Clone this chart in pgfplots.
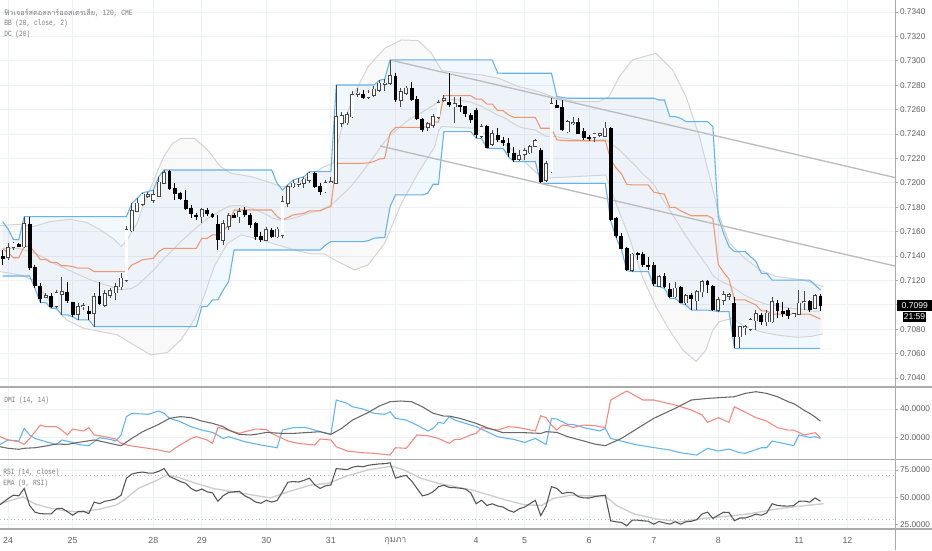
\documentclass[border=0pt]{standalone}
\usepackage{fontspec}
\setmainfont{Liberation Sans}
\newfontfamily\thaifont[Script=Thai]{Loma}
\newfontfamily\lblfont[FakeStretch=0.78]{Liberation Mono}
\usepackage{pgfplots}
\pgfplotsset{compat=1.18}
\usepackage{pgfplotstable}

\definecolor{gridc}{RGB}{238,241,248}
\definecolor{dcline}{RGB}{100,178,240}
\definecolor{dcfill}{RGB}{33,150,243}
\definecolor{dcmid}{RGB}{242,150,112}
\definecolor{bbline}{RGB}{212,212,212}
\definecolor{trend}{RGB}{188,188,188}
\definecolor{wk}{RGB}{70,70,70}
\definecolor{dmiplus}{RGB}{95,180,245}
\definecolor{dmiminus}{RGB}{245,135,125}
\definecolor{adx}{RGB}{105,105,105}
\definecolor{rsic}{RGB}{85,85,85}
\definecolor{emac}{RGB}{205,205,205}
\definecolor{sep}{RGB}{170,170,170}
\definecolor{txt}{RGB}{95,95,95}
\definecolor{ltxt}{RGB}{125,125,125}

\newcommand\lbl{\lblfont\fontsize{6}{7}\selectfont}

\pgfplotstableread{
x o h l c up lo mid bm
0 0.71395 0.71449 0.71326 0.71381 0.71682 0.71236 0.71459 0.71460
1 0.71389 0.71504 0.71367 0.71469 0.71620 0.71236 0.71428 0.71460
2 0.71471 0.71518 0.71449 0.71504 0.71535 0.71236 0.71386 0.71460
3 0.71496 0.71504 0.71471 0.71477 0.71535 0.71236 0.71386 0.71460
4 0.71477 0.71723 0.71463 0.71662 0.71723 0.71236 0.71480 0.71450
5 0.71662 0.71723 0.71285 0.71307 0.71723 0.71236 0.71480 0.71440
6 0.71307 0.71326 0.71135 0.71154 0.71723 0.71135 0.71429 0.71420
7 0.71154 0.71176 0.71018 0.71053 0.71723 0.71018 0.71371 0.71400
8 0.71062 0.71094 0.71053 0.71075 0.71723 0.71018 0.71371 0.71380
9 0.71067 0.71094 0.70971 0.70985 0.71723 0.70971 0.71347 0.71350
10 0.70990 0.71122 0.70971 0.71100 0.71723 0.70971 0.71347 0.71330
11 0.71089 0.71231 0.70917 0.71108 0.71723 0.70917 0.71320 0.71310
12 0.71100 0.71190 0.71018 0.71034 0.71723 0.70917 0.71320 0.71290
13 0.71018 0.71026 0.70903 0.70917 0.71723 0.70903 0.71313 0.71270
14 0.70922 0.71012 0.70876 0.70985 0.71723 0.70876 0.71300 0.71250
15 0.70985 0.71018 0.70958 0.70993 0.71723 0.70876 0.71300 0.71230
16 0.70949 0.70990 0.70876 0.70930 0.71723 0.70876 0.71300 0.71210
17 0.70930 0.71094 0.70821 0.71067 0.71723 0.70821 0.71272 0.71195
18 0.71067 0.71190 0.70999 0.71012 0.71723 0.70821 0.71272 0.71180
19 0.70999 0.71122 0.70985 0.71089 0.71723 0.70821 0.71272 0.71165
20 0.71081 0.71135 0.71053 0.71116 0.71723 0.70821 0.71272 0.71152
21 0.71100 0.71176 0.71040 0.71149 0.71723 0.70821 0.71272 0.71136
22 0.71149 0.71258 0.71122 0.71217 0.71723 0.70821 0.71272 0.71122
23 0.71204 0.71646 0.71190 0.71613 0.71723 0.70821 0.71272 0.71128
24 0.71608 0.71832 0.71600 0.71772 0.71832 0.70821 0.71327 0.71134
25 0.71769 0.71873 0.71764 0.71832 0.71873 0.70821 0.71347 0.71160
26 0.71826 0.71919 0.71810 0.71906 0.71919 0.70821 0.71370 0.71198
27 0.71892 0.71928 0.71873 0.71900 0.71928 0.70821 0.71375 0.71240
28 0.71859 0.71941 0.71832 0.71900 0.71941 0.70821 0.71381 0.71281
29 0.71892 0.72050 0.71887 0.72004 0.72050 0.70821 0.71436 0.71332
30 0.71996 0.72105 0.71996 0.72083 0.72105 0.70821 0.71463 0.71381
31 0.72091 0.72105 0.71941 0.71949 0.72105 0.70821 0.71463 0.71423
32 0.71955 0.71996 0.71859 0.71908 0.72105 0.70821 0.71463 0.71467
33 0.71914 0.71928 0.71859 0.71873 0.72105 0.70821 0.71463 0.71515
34 0.71859 0.71941 0.71777 0.71791 0.72105 0.70821 0.71463 0.71555
35 0.71791 0.71818 0.71709 0.71744 0.72105 0.70821 0.71463 0.71593
36 0.71736 0.71750 0.71695 0.71723 0.72105 0.70821 0.71463 0.71632
37 0.71723 0.71791 0.71668 0.71777 0.72105 0.70985 0.71545 0.71668
38 0.71772 0.71791 0.71728 0.71744 0.72105 0.70985 0.71545 0.71705
39 0.71742 0.71750 0.71709 0.71723 0.72105 0.71040 0.71573 0.71736
40 0.71662 0.71736 0.71449 0.71531 0.72105 0.71040 0.71573 0.71757
41 0.71531 0.71695 0.71490 0.71662 0.72105 0.71122 0.71614 0.71783
42 0.71646 0.71750 0.71613 0.71731 0.72105 0.71190 0.71648 0.71808
43 0.71731 0.71750 0.71709 0.71717 0.72105 0.71449 0.71777 0.71814
44 0.71723 0.71791 0.71668 0.71764 0.72105 0.71449 0.71777 0.71813
45 0.71778 0.71805 0.71723 0.71737 0.72105 0.71449 0.71777 0.71808
46 0.71737 0.71750 0.71627 0.71655 0.72105 0.71449 0.71777 0.71796
47 0.71668 0.71682 0.71532 0.71559 0.72105 0.71449 0.71777 0.71779
48 0.71559 0.71600 0.71518 0.71532 0.72105 0.71449 0.71777 0.71760
49 0.71532 0.71641 0.71526 0.71614 0.72105 0.71449 0.71777 0.71741
50 0.71608 0.71627 0.71546 0.71559 0.72105 0.71449 0.71777 0.71715
51 0.71559 0.71635 0.71550 0.71619 0.71996 0.71449 0.71723 0.71698
52 0.71573 0.71890 0.71550 0.71846 0.71941 0.71449 0.71695 0.71695
53 0.71832 0.71983 0.71805 0.71969 0.71983 0.71449 0.71716 0.71700
54 0.71969 0.72024 0.71955 0.71996 0.72024 0.71449 0.71737 0.71710
55 0.71988 0.72037 0.71969 0.71996 0.72037 0.71449 0.71743 0.71723
56 0.71996 0.72050 0.71960 0.72029 0.72050 0.71449 0.71750 0.71738
57 0.72024 0.72091 0.71996 0.72078 0.72091 0.71449 0.71770 0.71753
58 0.72078 0.72091 0.71960 0.71969 0.72091 0.71449 0.71770 0.71764
59 0.71974 0.72000 0.71901 0.71928 0.72091 0.71449 0.71770 0.71775
60 0.71928 0.72024 0.71914 0.72002 0.72091 0.71490 0.71791 0.71798
61 0.72002 0.72050 0.71996 0.72010 0.72091 0.71518 0.71805 0.71816
62 0.71996 0.72802 0.71988 0.72543 0.72802 0.71518 0.72160 0.71856
63 0.72488 0.72577 0.72460 0.72548 0.72802 0.71518 0.72160 0.71898
64 0.72493 0.72580 0.72470 0.72556 0.72802 0.71518 0.72160 0.71937
65 0.72543 0.72750 0.72530 0.72720 0.72802 0.71518 0.72160 0.71986
66 0.72726 0.72775 0.72707 0.72734 0.72802 0.71518 0.72160 0.72040
67 0.72728 0.72760 0.72690 0.72701 0.72802 0.71518 0.72160 0.72097
68 0.72701 0.72761 0.72685 0.72734 0.72802 0.71526 0.72164 0.72158
69 0.72720 0.72790 0.72707 0.72767 0.72802 0.71546 0.72174 0.72215
70 0.72761 0.72840 0.72748 0.72816 0.72840 0.71550 0.72195 0.72278
71 0.72810 0.72850 0.72750 0.72816 0.72850 0.71550 0.72200 0.72338
72 0.72816 0.73007 0.72802 0.72876 0.73007 0.71805 0.72406 0.72389
73 0.72876 0.72900 0.72660 0.72679 0.73007 0.71901 0.72454 0.72425
74 0.72679 0.72775 0.72625 0.72748 0.73007 0.71901 0.72454 0.72463
75 0.72734 0.72790 0.72720 0.72775 0.73007 0.71901 0.72454 0.72501
76 0.72775 0.72830 0.72670 0.72679 0.73007 0.71901 0.72454 0.72534
77 0.72685 0.72710 0.72515 0.72529 0.73007 0.71901 0.72454 0.72557
78 0.72523 0.72530 0.72420 0.72433 0.73007 0.71901 0.72454 0.72580
79 0.72455 0.72500 0.72425 0.72483 0.73007 0.71914 0.72461 0.72607
80 0.72474 0.72560 0.72450 0.72543 0.73007 0.71988 0.72498 0.72635
81 0.72537 0.72680 0.72520 0.72657 0.73007 0.71988 0.72498 0.72667
82 0.72679 0.72720 0.72660 0.72690 0.73007 0.72420 0.72714 0.72674
83 0.72657 0.72898 0.72620 0.72638 0.73007 0.72420 0.72714 0.72679
84 0.72625 0.72707 0.72488 0.72646 0.73007 0.72420 0.72714 0.72683
85 0.72638 0.72700 0.72580 0.72625 0.73007 0.72420 0.72714 0.72678
86 0.72625 0.72630 0.72540 0.72564 0.73007 0.72420 0.72714 0.72670
87 0.72556 0.72570 0.72490 0.72515 0.73007 0.72420 0.72714 0.72661
88 0.72597 0.72611 0.72365 0.72392 0.73007 0.72365 0.72686 0.72644
89 0.72384 0.72480 0.72365 0.72461 0.73007 0.72365 0.72686 0.72628
90 0.72466 0.72474 0.72283 0.72291 0.73007 0.72283 0.72645 0.72602
91 0.72319 0.72430 0.72300 0.72400 0.73007 0.72283 0.72645 0.72581
92 0.72392 0.72447 0.72338 0.72351 0.72900 0.72283 0.72592 0.72555
93 0.72346 0.72373 0.72302 0.72332 0.72898 0.72283 0.72591 0.72538
94 0.72324 0.72365 0.72215 0.72248 0.72898 0.72215 0.72557 0.72513
95 0.72242 0.72297 0.72174 0.72187 0.72898 0.72174 0.72536 0.72483
96 0.72193 0.72269 0.72182 0.72220 0.72898 0.72174 0.72536 0.72460
97 0.72234 0.72283 0.72187 0.72261 0.72898 0.72174 0.72536 0.72447
98 0.72248 0.72310 0.72235 0.72297 0.72898 0.72174 0.72536 0.72440
99 0.72302 0.72360 0.72295 0.72346 0.72898 0.72174 0.72536 0.72433
100 0.72269 0.72283 0.71996 0.72010 0.72898 0.71996 0.72447 0.72407
101 0.72024 0.72180 0.72010 0.72155 0.72898 0.71996 0.72447 0.72381
102 0.72092 0.72693 0.72078 0.72646 0.72898 0.71996 0.72447 0.72379
103 0.72633 0.72679 0.72611 0.72616 0.72707 0.71996 0.72352 0.72378
104 0.72619 0.72679 0.72428 0.72433 0.72700 0.71996 0.72348 0.72368
105 0.72420 0.72515 0.72411 0.72502 0.72693 0.71996 0.72345 0.72361
106 0.72488 0.72543 0.72474 0.72493 0.72693 0.71996 0.72345 0.72358
107 0.72493 0.72529 0.72400 0.72406 0.72693 0.71996 0.72345 0.72352
108 0.72425 0.72447 0.72351 0.72373 0.72693 0.71996 0.72345 0.72351
109 0.72370 0.72392 0.72346 0.72365 0.72693 0.71996 0.72345 0.72347
110 0.72373 0.72411 0.72338 0.72400 0.72693 0.71996 0.72345 0.72352
111 0.72392 0.72411 0.72379 0.72400 0.72693 0.71996 0.72345 0.72352
112 0.72384 0.72502 0.72379 0.72447 0.72693 0.71996 0.72345 0.72357
113 0.72447 0.72461 0.71690 0.71696 0.72693 0.71690 0.72192 0.72325
114 0.71709 0.71720 0.71550 0.71564 0.72693 0.71550 0.72122 0.72291
115 0.71564 0.71586 0.71455 0.71463 0.72693 0.71455 0.72074 0.72255
116 0.71463 0.71477 0.71280 0.71286 0.72693 0.71280 0.71987 0.72208
117 0.71286 0.71428 0.71272 0.71414 0.72693 0.71272 0.71983 0.72166
118 0.71422 0.71436 0.71368 0.71409 0.72693 0.71272 0.71983 0.72121
119 0.71417 0.71436 0.71313 0.71327 0.72693 0.71272 0.71983 0.72070
120 0.71327 0.71395 0.71286 0.71313 0.72693 0.71272 0.71983 0.72035
121 0.71327 0.71354 0.71155 0.71171 0.72693 0.71155 0.71924 0.71986
122 0.71154 0.71244 0.71149 0.71231 0.72679 0.71149 0.71914 0.71915
123 0.71231 0.71258 0.71135 0.71149 0.72679 0.71135 0.71907 0.71842
124 0.71127 0.71176 0.71053 0.71067 0.72543 0.71053 0.71798 0.71774
125 0.71067 0.71190 0.71053 0.71135 0.72543 0.71053 0.71798 0.71705
126 0.71143 0.71154 0.71012 0.71017 0.72529 0.71012 0.71771 0.71632
127 0.71017 0.71088 0.70998 0.71072 0.72502 0.70998 0.71750 0.71565
128 0.71080 0.71094 0.70957 0.71053 0.72502 0.70957 0.71730 0.71499
129 0.71034 0.71121 0.70957 0.71108 0.72502 0.70957 0.71730 0.71436
130 0.71108 0.71203 0.71067 0.71190 0.72502 0.70957 0.71730 0.71376
131 0.71190 0.71203 0.71099 0.71162 0.72502 0.70957 0.71730 0.71314
132 0.71154 0.71162 0.70952 0.70957 0.72461 0.70952 0.71707 0.71239
133 0.70957 0.71067 0.70944 0.71039 0.71720 0.70944 0.71332 0.71206
134 0.71039 0.71116 0.70998 0.71080 0.71586 0.70944 0.71265 0.71182
135 0.71072 0.71094 0.71039 0.71080 0.71477 0.70944 0.71211 0.71163
136 0.71012 0.71067 0.70643 0.70739 0.71436 0.70643 0.71040 0.71136
137 0.70739 0.70826 0.70643 0.70821 0.71436 0.70643 0.71040 0.71106
138 0.70813 0.70834 0.70752 0.70821 0.71436 0.70643 0.71040 0.71077
139 0.70799 0.70889 0.70788 0.70875 0.71395 0.70643 0.71019 0.71054
140 0.70870 0.70957 0.70793 0.70925 0.71354 0.70643 0.70999 0.71035
141 0.70916 0.70930 0.70834 0.70862 0.71258 0.70643 0.70951 0.71019
142 0.70862 0.70957 0.70826 0.70930 0.71258 0.70643 0.70951 0.71004
143 0.70862 0.71061 0.70854 0.71026 0.71203 0.70643 0.70923 0.70998
144 0.71012 0.71039 0.70889 0.70952 0.71203 0.70643 0.70923 0.70992
145 0.70944 0.71026 0.70903 0.70930 0.71203 0.70643 0.70923 0.70982
146 0.70952 0.70971 0.70881 0.70908 0.71203 0.70643 0.70923 0.70977
147 0.70903 0.70935 0.70897 0.70925 0.71203 0.70643 0.70923 0.70969
148 0.70925 0.71121 0.70916 0.71012 0.71203 0.70643 0.70923 0.70967
149 0.71017 0.71116 0.70957 0.71026 0.71203 0.70643 0.70923 0.70963
150 0.71026 0.71039 0.70944 0.70963 0.71203 0.70643 0.70923 0.70952
151 0.70971 0.71088 0.70963 0.71072 0.71162 0.70643 0.70903 0.70947
152 0.71072 0.71088 0.70952 0.70990 0.71121 0.70643 0.70882 0.70949
}\candles

\pgfplotsset{
  panel/.style={
    scale only axis, width=671.25pt,
    xmin=-0.502, xmax=165.85,
    axis line style={draw=none},
    xtick={1,13,28,37,49,61,73,88,97,109,121,133,148,157},
    xticklabels={},
    xmajorgrids, ymajorgrids,
    major grid style={draw=gridc, line width=0.75pt},
    xtick style={draw=none},
    ytick pos=right, yticklabel pos=right,
    tick align=outside, major tick length=2pt,
    ytick style={draw=sep, line width=0.6pt},
    yticklabel style={font=\fontsize{6.2}{7}\selectfont, text=txt, anchor=west, inner sep=0pt, xshift=1.6pt},
    /pgf/number format/assume math mode=true,
    scaled y ticks=false,
  },
  wick/.style={draw=none, mark=none, forget plot,
    error bars/y dir=minus, error bars/y explicit, error bars/error mark=none,
    error bars/error bar style={draw=#1, line width=0.75pt}},
  body/.style 2 args={draw=none, mark=none, forget plot,
    error bars/y dir=minus, error bars/y explicit, error bars/error mark=none,
    error bars/error bar style={draw=#1, line width=#2}},
}

\begin{document}
\begin{tikzpicture}[x=0.75pt,y=0.75pt]
\fill[white] (0,0) rectangle (932,-550);

% ---------------- main price panel ----------------
\begin{axis}[panel, at={(0pt,0pt)}, anchor=north west, height=290.25pt,
  ymin=0.703262, ymax=0.734985,
  ytick={0.704,0.706,0.708,0.710,0.712,0.714,0.716,0.718,0.720,0.722,0.724,0.726,0.728,0.730,0.732,0.734},
  yticklabel={\pgfmathprintnumber[fixed,fixed zerofill,precision=4]{\tick}}]

% Bollinger band fill (upper forward, lower backward)
\addplot[fill=black, fill opacity=0.022, draw=none, forget plot] coordinates {
(-0.5,0.71650) (3,0.71660) (5.7,0.71641) (8.8,0.71682) (12.6,0.71701) (15.7,0.71674) (18.2,0.71614) (20.6,0.71540) (22,0.71480) (23,0.71520) (24,0.71600) (25,0.71670) (26,0.71800) (27,0.71910) (28,0.72010) (29,0.72120) (30,0.72220) (31.5,0.72320) (33.1,0.72365) (35.6,0.72365) (38.1,0.72269) (40.5,0.72133) (42.4,0.72078) (46.1,0.72051) (49.2,0.72010) (51.7,0.71969) (53.6,0.71969) (56.7,0.72051) (59.8,0.72133) (61.4,0.72160) (62.2,0.72300) (62.9,0.72433) (65.4,0.72734) (67.9,0.72952) (71,0.73103) (74.1,0.73171) (77.2,0.73166) (79.7,0.73062) (81.6,0.72920) (85.3,0.72898) (89.1,0.72884) (92.2,0.72857) (95.9,0.72789) (99.6,0.72748) (102.1,0.72707) (106.5,0.72666) (110.8,0.72666) (112.7,0.72707) (114.6,0.72871) (117,0.73007) (121.4,0.73062) (124.5,0.72925) (127,0.72707) (129.5,0.72379) (131.4,0.72051) (133.2,0.71723) (135.1,0.71505) (137.6,0.71395) (140.7,0.71286) (143.8,0.71231) (148.8,0.71204) (152.5,0.71149)
(152.5,0.70762) (150,0.70739) (147.5,0.70734) (143.8,0.70753) (140.7,0.70781) (137.6,0.70830) (135.7,0.70890) (133.2,0.70862) (132,0.70794) (130.7,0.70630) (128.9,0.70535) (126.4,0.70630) (123.9,0.70794) (121.4,0.70985) (118.9,0.71231) (116.4,0.71559) (114,0.71830) (112.1,0.72064) (106.5,0.72051) (100.3,0.72037) (94,0.72297) (87.8,0.72447) (81.6,0.72461) (81,0.72424) (80.3,0.72297) (77.2,0.72078) (74.1,0.71832) (71,0.71505) (67.9,0.71327) (65.4,0.71286) (61.7,0.71368) (59.8,0.71417) (57.3,0.71417) (54.2,0.71450) (51.1,0.71491) (48,0.71532) (44.3,0.71573) (41.8,0.71505) (39.3,0.71313) (37.4,0.71067) (35.6,0.70876) (33.1,0.70712) (30.6,0.70608) (27.5,0.70589) (24.4,0.70671) (21.3,0.70753) (18.2,0.70781) (15,0.70808) (11.9,0.70876) (9.5,0.70985) (7.6,0.71095) (5.7,0.71204) (3.2,0.71245) (-0.5,0.71272)};

% Donchian channel fill (upper forward, lower backward)
\addplot[fill=dcfill, fill opacity=0.055, draw=none, forget plot] coordinates {
(0,0.71682) (1,0.71620) (2,0.71535) (3,0.71535) (4,0.71723) (23,0.71723) (24,0.71832) (25,0.71873) (26,0.71919) (27,0.71928) (28,0.71941) (29,0.72050) (30,0.72105) (50,0.72105) (51,0.71996) (52,0.71941) (53,0.71983) (54,0.72024) (55,0.72037) (56,0.72050) (57,0.72091) (61,0.72091) (62,0.72802) (69,0.72802) (70,0.72840) (71,0.72850) (72,0.73007) (91,0.73007) (92,0.72900) (93,0.72898) (102,0.72898) (103,0.72707) (104,0.72700) (105,0.72693) (121,0.72693) (122,0.72679) (123,0.72679) (124,0.72543) (125,0.72543) (126,0.72529) (127,0.72502) (131,0.72502) (132,0.72461) (133,0.71720) (134,0.71586) (135,0.71477) (136,0.71436) (138,0.71436) (139,0.71395) (140,0.71354) (141,0.71258) (142,0.71258) (143,0.71203) (150,0.71203) (151,0.71162) (152,0.71121)
(152,0.70643) (136,0.70643) (135,0.70944) (133,0.70944) (132,0.70952) (131,0.70957) (128,0.70957) (127,0.70998) (126,0.71012) (125,0.71053) (124,0.71053) (123,0.71135) (122,0.71149) (121,0.71155) (120,0.71272) (117,0.71272) (116,0.71280) (115,0.71455) (114,0.71550) (113,0.71690) (112,0.71996) (100,0.71996) (99,0.72174) (95,0.72174) (94,0.72215) (93,0.72283) (90,0.72283) (89,0.72365) (88,0.72365) (87,0.72420) (82,0.72420) (81,0.71988) (80,0.71988) (79,0.71914) (78,0.71901) (73,0.71901) (72,0.71805) (71,0.71550) (70,0.71550) (69,0.71546) (68,0.71526) (67,0.71518) (61,0.71518) (60,0.71490) (59,0.71449) (43,0.71449) (42,0.71190) (41,0.71122) (40,0.71040) (39,0.71040) (38,0.70985) (37,0.70985) (36,0.70821) (17,0.70821) (16,0.70876) (14,0.70876) (13,0.70903) (12,0.70917) (11,0.70917) (10,0.70971) (9,0.70971) (8,0.71018) (7,0.71018) (6,0.71135) (5,0.71236) (0,0.71236)};

% Bollinger lines
\addplot[bbline, line width=0.75pt, forget plot] coordinates {
(-0.5,0.71650) (3,0.71660) (5.7,0.71641) (8.8,0.71682) (12.6,0.71701) (15.7,0.71674) (18.2,0.71614) (20.6,0.71540) (22,0.71480) (23,0.71520) (24,0.71600) (25,0.71670) (26,0.71800) (27,0.71910) (28,0.72010) (29,0.72120) (30,0.72220) (31.5,0.72320) (33.1,0.72365) (35.6,0.72365) (38.1,0.72269) (40.5,0.72133) (42.4,0.72078) (46.1,0.72051) (49.2,0.72010) (51.7,0.71969) (53.6,0.71969) (56.7,0.72051) (59.8,0.72133) (61.4,0.72160) (62.2,0.72300) (62.9,0.72433) (65.4,0.72734) (67.9,0.72952) (71,0.73103) (74.1,0.73171) (77.2,0.73166) (79.7,0.73062) (81.6,0.72920) (85.3,0.72898) (89.1,0.72884) (92.2,0.72857) (95.9,0.72789) (99.6,0.72748) (102.1,0.72707) (106.5,0.72666) (110.8,0.72666) (112.7,0.72707) (114.6,0.72871) (117,0.73007) (121.4,0.73062) (124.5,0.72925) (127,0.72707) (129.5,0.72379) (131.4,0.72051) (133.2,0.71723) (135.1,0.71505) (137.6,0.71395) (140.7,0.71286) (143.8,0.71231) (148.8,0.71204) (152.5,0.71149)};
\addplot[bbline, line width=0.75pt, forget plot] coordinates {
(-0.5,0.71272) (3.2,0.71245) (5.7,0.71204) (7.6,0.71095) (9.5,0.70985) (11.9,0.70876) (15,0.70808) (18.2,0.70781) (21.3,0.70753) (24.4,0.70671) (27.5,0.70589) (30.6,0.70608) (33.1,0.70712) (35.6,0.70876) (37.4,0.71067) (39.3,0.71313) (41.8,0.71505) (44.3,0.71573) (48,0.71532) (51.1,0.71491) (54.2,0.71450) (57.3,0.71417) (59.8,0.71417) (61.7,0.71368) (65.4,0.71286) (67.9,0.71327) (71,0.71505) (74.1,0.71832) (77.2,0.72078) (80.3,0.72297) (81,0.72424) (81.6,0.72461) (87.8,0.72447) (94,0.72297) (100.3,0.72037) (106.5,0.72051) (112.1,0.72064) (114,0.71830) (116.4,0.71559) (118.9,0.71231) (121.4,0.70985) (123.9,0.70794) (126.4,0.70630) (128.9,0.70535) (130.7,0.70630) (132,0.70794) (133.2,0.70862) (135.7,0.70890) (137.6,0.70830) (140.7,0.70781) (143.8,0.70753) (147.5,0.70734) (150,0.70739) (152.5,0.70762)};
\addplot[bbline, line width=0.75pt, forget plot] table[x=x,y=bm]{\candles};

% Donchian lines
\addplot[dcline, line width=0.8pt, forget plot] table[x=x,y=up]{\candles};
\addplot[dcline, line width=0.8pt, forget plot] table[x=x,y=lo]{\candles};
\addplot[dcmid, line width=0.8pt, forget plot] table[x=x,y=mid]{\candles};

% trend channel
\addplot[trend, line width=1pt, forget plot] coordinates {(72,0.73007) (165.85,0.72043)};
\addplot[trend, line width=1pt, forget plot] coordinates {(70.13,0.72302) (165.85,0.71318)};

% candles: wicks
\addplot[restrict expr to domain={\thisrow{c}-\thisrow{o}}{0:1}, wick=wk]
  table[x=x, y=h, y error expr=\thisrow{h}-\thisrow{l}]{\candles};
\addplot[restrict expr to domain={\thisrow{c}-\thisrow{o}}{-1:0}, wick=black]
  table[x=x, y=h, y error expr=\thisrow{h}-\thisrow{l}]{\candles};
% white bodies
\addplot[restrict expr to domain={\thisrow{c}-\thisrow{o}}{0:1}, body={wk}{2.9pt}]
  table[x=x, y expr=\thisrow{c}+0.00006, y error expr=\thisrow{c}-\thisrow{o}+0.00012]{\candles};
\addplot[restrict expr to domain={\thisrow{c}-\thisrow{o}}{0:1}, body={white}{1.75pt}]
  table[x=x, y=c, y error expr=\thisrow{c}-\thisrow{o}]{\candles};
% black bodies
\addplot[restrict expr to domain={\thisrow{c}-\thisrow{o}}{-1:0}, body={black}{2.9pt}]
  table[x=x, y expr=\thisrow{o}+0.00003, y error expr=\thisrow{o}-\thisrow{c}+0.00006]{\candles};
\end{axis}

% ---------------- DMI panel ----------------
\begin{axis}[panel, at={(0pt,-290.25pt)}, anchor=north west, height=54.375pt,
  ymin=4.79, ymax=55.37, ytick={20,40},
  yticklabel={\pgfmathprintnumber[fixed,fixed zerofill,precision=4]{\tick}}]
\addplot[dmiplus, line width=0.8pt] coordinates {
(-0.5,15.3)(1,18.4)(3,17.7)(4,26.5)(5,21.9)(6,19.5)(8,17.2)(10,15.3)(11,18.4)(13,16.7)(14,15.3)(16,14.4)(18,20.0)(20,18.8)(21,17.7)(22,21.9)(23,34.7)(24,37.0)(27,36.3)(29,38.6)(30,37.0)(31,33.5)(33,31.2)(35,27.7)(37,25.3)(39,23.7)(41,19.5)(42,20.7)(43,19.5)(45,17.2)(48,14.9)(51,13.0)(52,25.3)(54,27.0)(56,27.2)(57,26.5)(59,24.2)(61,22.3)(62,46.3)(64,44.0)(65,41.6)(67,40.0)(69,37.0)(71,36.3)(72,38.1)(73,33.5)(75,32.3)(77,28.8)(79,24.7)(80,26.5)(81,30.7)(82,30.0)(83,34.7)(84,32.3)(86,30.0)(88,27.7)(90,24.2)(92,20.7)(93,20.0)(95,18.8)(97,16.7)(99,19.5)(101,15.3)(102,33.5)(103,33.0)(105,29.3)(106,29.3)(108,27.0)(111,24.7)(112,26.5)(113,19.5)(116,16.7)(118,14.9)(120,13.7)(124,11.4)(126,9.5)(129,7.9)(131,12.6)(133,10.7)(135,12.1)(137,9.5)(138,9.1)(141,13.0)(142,13.0)(143,17.7)(146,15.3)(147,14.4)(148,21.9)(150,20.2)(151,20.7)(152,19.5)};
\addplot[dmiminus, line width=0.8pt] coordinates {
(-0.5,20.7)(1,18.4)(3,17.2)(4,15.3)(5,19.5)(7,28.8)(8,27.7)(10,27.7)(11,25.3)(12,21.9)(13,26.0)(15,24.7)(16,27.0)(17,21.9)(19,20.7)(21,19.1)(22,16.0)(24,14.2)(27,12.6)(29,11.4)(31,9.8)(32,12.6)(33,14.9)(35,19.5)(36,20.7)(38,18.4)(39,16.0)(40,27.2)(42,25.3)(44,23.0)(45,24.2)(47,26.0)(49,25.8)(50,23.0)(52,19.5)(53,17.7)(55,16.0)(58,14.9)(59,19.1)(61,18.4)(62,13.7)(64,10.7)(67,9.5)(69,9.1)(72,7.9)(73,13.0)(75,12.6)(77,21.9)(79,21.4)(81,19.5)(83,16.0)(84,18.8)(85,18.8)(87,21.9)(88,23.0)(89,27.0)(92,25.3)(94,27.7)(96,27.0)(99,24.7)(100,35.3)(101,34.0)(102,28.8)(103,25.3)(104,28.8)(105,28.4)(106,27.2)(108,28.8)(110,28.4)(112,27.0)(113,46.3)(116,52.6)(119,46.3)(121,46.3)(125,42.8)(128,39.3)(130,35.8)(131,30.7)(133,34.0)(135,30.7)(136,41.6)(140,34.0)(142,31.6)(144,27.0)(146,25.3)(147,25.3)(149,21.9)(151,23.5)(152,20.0)};
\addplot[adx, line width=0.8pt] coordinates {
(-0.5,13.7)(1,12.6)(3,11.9)(4,12.6)(6,13.0)(8,14.2)(10,15.6)(12,15.3)(14,16.7)(17,18.4)(18,17.7)(20,16.0)(22,14.4)(24,19.5)(26,24.2)(29,29.3)(31,33.5)(33,34.7)(35,34.0)(37,31.6)(39,30.0)(41,27.7)(42,25.3)(44,22.3)(46,21.9)(47,22.3)(49,23.7)(52,23.0)(54,23.0)(57,23.7)(59,24.2)(61,22.3)(63,26.5)(65,32.3)(68,37.7)(70,42.1)(72,45.1)(74,45.6)(76,45.1)(78,41.6)(80,37.0)(82,35.1)(83,35.1)(85,33.5)(88,30.0)(90,27.0)(93,23.5)(97,23.5)(100,23.0)(101,24.2)(103,23.7)(105,20.7)(108,17.7)(110,15.6)(112,14.4)(115,19.5)(118,26.5)(121,33.5)(125,40.5)(128,46.3)(131,47.4)(133,47.9)(136,48.6)(138,50.9)(140,52.1)(142,50.9)(144,48.6)(146,45.1)(147,43.8)(148,41.5)(149,39.0)(150,37.0)(151,34.5)(152,31.5)};
\end{axis}

% ---------------- RSI panel ----------------
\begin{axis}[panel, at={(0pt,-344.625pt)}, anchor=north west, height=52.125pt,
  ymin=20.87, ymax=84.63, ytick={25,50,75},
  yticklabel={\pgfmathprintnumber[fixed,fixed zerofill,precision=4]{\tick}},
  xticklabels={24,25,28,29,30,31,{\thaifont กุมภา},4,5,6,7,8,11,12},
  xticklabel style={font=\fontsize{6.6}{8}\selectfont, text=txt, inner sep=0pt, yshift=-4pt}]
\addplot[gray!55, dotted, line width=0.7pt] coordinates {(-0.502,70) (165.85,70)};
\addplot[gray!55, dotted, line width=0.7pt] coordinates {(-0.502,30) (165.85,30)};
\addplot[emac, line width=1pt] coordinates {
(-0.5,44.1)(1.6,47.2)(3.8,50.3)(5.9,44.1)(8.1,40.9)(11.3,37.8)(14.5,36.3)(17.7,38.8)(20.9,42.5)(22.5,47.2)(25.2,58.1)(28.4,65.0)(30.6,70.6)(32.7,68.1)(35.9,62.8)(39.1,58.1)(43.4,54.4)(46.6,51.9)(49.8,49.4)(53.0,55.0)(57.3,61.3)(60.5,62.8)(63.8,69.1)(68.0,75.3)(72.3,78.4)(74.5,75.3)(77.7,67.5)(80.9,62.8)(84.1,59.7)(87.3,56.6)(90.5,51.9)(93.7,47.2)(97.0,43.1)(100.2,42.5)(102.3,48.8)(105.5,51.9)(108.7,51.3)(111.9,51.3)(114.1,42.5)(117.3,34.7)(121.6,30.0)(125.9,27.5)(130.2,30.6)(134.4,32.5)(138.7,34.7)(144.1,39.4)(149.4,42.5)(152.6,44.1)};
\addplot[rsic, line width=0.8pt] coordinates {
(-0.5,43.1)(1,48.8)(2,51.9)(3,51.3)(4,58.1)(5,42.5)(6,36.3)(7,35.0)(8,34.7)(9,34.7)(10,39.4)(11,39.9)(12,36.9)(13,33.5)(14,36.9)(15,37.2)(16,35.0)(17,45.6)(18,44.1)(19,46.3)(20,47.2)(21,48.5)(22,51.9)(23,67.5)(24,71.3)(25,72.5)(26,73.1)(27,72.2)(28,72.2)(29,73.8)(30,76.3)(31,69.1)(32,66.9)(33,64.5)(34,62.8)(35,58.1)(36,55.6)(37,57.5)(38,55.0)(39,54.0)(40,46.3)(41,51.5)(42,54.4)(43,55.0)(44,55.5)(45,51.3)(46,49.0)(47,45.6)(48,44.5)(49,47.2)(50,45.6)(51,47.0)(52,55.0)(53,63.8)(54,64.4)(55,64.0)(56,65.5)(57,67.5)(58,61.3)(59,58.1)(60,60.5)(61,61.3)(62,76.3)(63,75.8)(64,75.3)(65,77.5)(66,78.5)(67,78.0)(68,79.4)(69,80.0)(70,80.6)(71,80.8)(72,81.6)(73,67.5)(74,69.1)(75,70.0)(76,65.0)(77,58.1)(78,51.3)(79,52.5)(80,55.0)(81,59.7)(82,61.0)(83,59.0)(84,58.8)(85,58.3)(86,57.5)(87,54.0)(88,44.1)(89,47.2)(90,42.5)(91,44.0)(92,42.0)(93,41.0)(94,38.0)(95,36.3)(96,39.4)(97,41.0)(98,44.1)(99,47.2)(100,33.1)(101,42.0)(102,59.7)(103,58.1)(104,53.4)(105,54.4)(106,54.0)(107,50.5)(108,49.4)(109,49.3)(110,50.5)(111,51.3)(112,51.9)(113,28.4)(114,27.5)(115,26.9)(116,23.8)(117,29.1)(118,29.0)(119,28.4)(120,28.0)(121,25.3)(122,27.8)(123,26.5)(124,25.3)(125,27.5)(126,25.3)(127,27.5)(128,28.0)(129,29.4)(130,34.7)(131,36.3)(132,30.6)(133,33.5)(134,36.3)(135,36.0)(136,28.4)(137,31.0)(138,31.0)(139,32.5)(140,34.5)(141,33.5)(142,35.6)(143,44.1)(144,42.5)(145,42.0)(146,41.9)(147,42.3)(148,46.3)(149,46.5)(150,45.5)(151,49.4)(152,46.3)};
\end{axis}

% frame lines
\draw[sep, line width=0.75pt] (895,0) -- (895,-550);
\draw[sep, line width=1.1pt] (0,-387) -- (932,-387);
\draw[sep, line width=1.1pt] (0,-459.5) -- (932,-459.5);
\draw[sep, line width=1.1pt] (0,-529) -- (932,-529);

% indicator titles
\node[anchor=west, inner sep=0pt, text=ltxt] at (4,-12.5) {\thaifont\fontsize{5.5}{7}\selectfont ฟิวเจอร์สดอลลาร์ออสเตรเลีย{\lbl , 120, CME}};
\node[anchor=west, inner sep=0pt, text=ltxt] at (4,-23.5) {\lbl BB (20, close, 2)};
\node[anchor=west, inner sep=0pt, text=ltxt] at (4,-34.5) {\lbl DC (20)};
\node[anchor=west, inner sep=0pt, text=ltxt] at (4,-400) {\lbl DMI (14, 14)};
\node[anchor=west, inner sep=0pt, text=ltxt] at (3,-472) {\lbl RSI (14, close)};
\node[anchor=west, inner sep=0pt, text=ltxt] at (3,-483) {\lbl EMA (9, RSI)};

% last price / countdown labels
\node[fill=black, text=white, font=\fontsize{6.4}{7}\selectfont, inner sep=0pt, minimum height=8.25pt, minimum width=26.25pt, anchor=west] at (897,-305.5) {0.7099};
\node[fill=black, text=white, font=\fontsize{6.4}{7}\selectfont, inner sep=0pt, minimum height=7.5pt, minimum width=17.25pt, anchor=north] at (914.5,-311.3) {21:59};

\pgfresetboundingbox
\useasboundingbox (0,0) rectangle (932,-550);
\end{tikzpicture}
\end{document}
